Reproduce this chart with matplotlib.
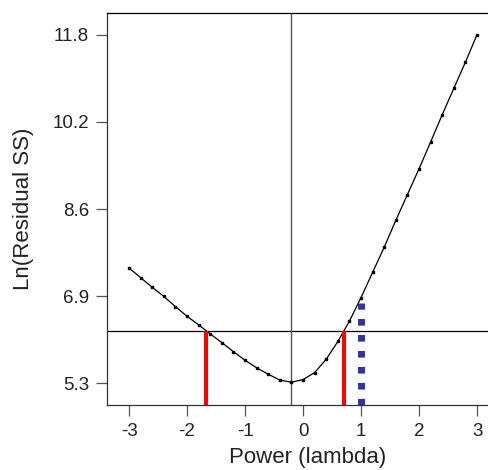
import numpy as np
import matplotlib
matplotlib.use("Agg")
import matplotlib.pyplot as plt

plt.rcParams['font.family'] = ['Liberation Sans', 'DejaVu Sans']

# Box-Cox style profile: ln(residual SS) against the power lambda
lam = [-3.0, -2.8, -2.6, -2.4, -2.2, -2.0, -1.8, -1.6, -1.4, -1.2, -1.0,
       -0.8, -0.6, -0.4, -0.2, 0.0, 0.2, 0.4, 0.6, 0.8, 1.0,
       1.2, 1.4, 1.6, 1.8, 2.0, 2.2, 2.4, 2.6, 2.8, 3.0]
ln_ss = [7.45, 7.27, 7.09, 6.92, 6.73, 6.55, 6.39, 6.22, 6.06, 5.89, 5.73,
         5.59, 5.47, 5.36, 5.32, 5.37, 5.50, 5.75, 6.08, 6.46, 6.90,
         7.37, 7.84, 8.34, 8.82, 9.30, 9.80, 10.31, 10.80, 11.29, 11.80]

best_lam = -0.2
ci_level = 6.274
ci_low, ci_high = -1.67, 0.71
ref_lam = 1.0
ref_top = 6.80

xticks = [-3, -2, -1, 0, 1, 2, 3]
yticks = [5.3, 6.925, 8.55, 10.175, 11.8]
ytick_labels = ['5.3', '6.9', '8.6', '10.2', '11.8']

fig = plt.figure(figsize=(4.89, 4.70), dpi=100)
ax = fig.add_axes([0.2188, 0.1383, 0.822, 0.834])

ymin, ymax = 4.896, 12.204
ax.set_xlim(-3.38, 3.55)
ax.set_ylim(ymin, ymax)

ax.plot(lam, ln_ss, color='black', lw=0.9, zorder=3)
ax.plot(lam, ln_ss, 's', color='black', ms=1.8, zorder=4)

ax.axhline(ci_level, color='black', lw=0.9, zorder=2)
ax.axvline(best_lam, color='#555555', lw=1.0, zorder=2)

ax.vlines([ci_low, ci_high], ymin, ci_level, color='#ff0000', lw=2.9, zorder=5)
ax.plot([ref_lam, ref_lam], [ymin, ref_top], color='#333399', lw=5,
        dashes=(0.95, 1.35), solid_capstyle='butt', dash_capstyle='butt',
        zorder=5)

ax.set_xticks(xticks)
ax.set_xticklabels([str(t) for t in xticks])
ax.set_yticks(yticks)
ax.set_yticklabels(ytick_labels)
ax.tick_params(direction='out', length=8, width=0.9, color='#555555',
               labelsize=13.5, pad=5, labelcolor='#222222')

ax.spines['right'].set_visible(False)
for s in ['left', 'bottom']:
    ax.spines[s].set_color('#333333')
    ax.spines[s].set_linewidth(0.9)
ax.spines['top'].set_color('black')
ax.spines['top'].set_linewidth(0.9)

ax.set_xlabel('Power (lambda)', fontsize=16, labelpad=5, color='#222222')
ax.set_ylabel('Ln(Residual SS)', fontsize=16, labelpad=13, color='#222222')

fig.savefig('out.png', dpi=100)
